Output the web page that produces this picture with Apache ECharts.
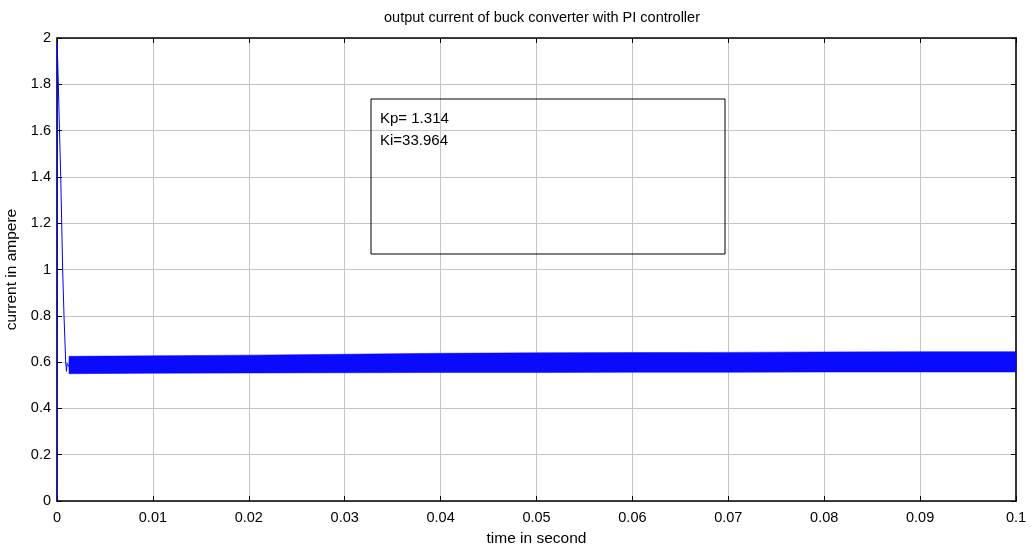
<!DOCTYPE html>
<html>
<head>
<meta charset="utf-8">
<script src="https://cdn.jsdelivr.net/npm/echarts@6/dist/echarts.min.js"></script>
<style>
html,body{margin:0;padding:0;background:#fff;}
#chart{width:1033px;height:552px;}
</style>
</head>
<body>
<div id="chart"></div>
<script>
// Transient (start-up) part of the output current
var transientTime = [0, 0.00002, 0.00014, 0.00026, 0.00039, 0.00059, 0.00073, 0.00091, 0.00099, 0.00106, 0.00125];
var transientCurrent = [0, 1.975, 1.80, 1.60, 1.40, 1.00, 0.80, 0.60, 0.56, 0.595, 0.58];

// Steady-state ripple band (envelope of the switching ripple)
var bandTime  = [0.00125, 0.01, 0.02, 0.03, 0.04, 0.05, 0.06, 0.07, 0.08, 0.09, 0.1];
var bandLower = [0.550, 0.552, 0.553, 0.554, 0.555, 0.555, 0.556, 0.556, 0.557, 0.557, 0.557];
var bandUpper = [0.625, 0.627, 0.630, 0.634, 0.638, 0.640, 0.641, 0.642, 0.644, 0.645, 0.645];

var titleText = 'output current of buck converter with PI controller';
var xName = 'time in second';
var yName = 'current in ampere';
var annotation = ['Kp= 1.314', 'Ki=33.964'];

var FONT = "'Liberation Sans', Arial, sans-serif";
function fmt(v){ return String(parseFloat(Number(v).toFixed(3))); }

var chart = echarts.init(document.getElementById('chart'), null, {renderer:'canvas'});

var transData = transientTime.map(function(t,i){ return [t, transientCurrent[i]]; });
var bandData = bandTime.map(function(t,i){ return [t, bandLower[i], bandUpper[i]]; });

chart.setOption({
  animation:false,
  backgroundColor:'#fff',
  textStyle:{fontFamily:FONT},
  grid:{left:57, top:38, right:17, bottom:51, containLabel:false, outerBoundsMode:'none'},
  xAxis:[{
    type:'value', min:0, max:0.1, interval:0.01,
    name:xName, nameLocation:'middle', nameGap:30,
    nameTextStyle:{color:'#000', fontSize:15.5, fontFamily:FONT},
    axisLine:{show:true, onZero:false, lineStyle:{color:'#000', width:1.5}},
    axisTick:{show:true, inside:true, length:5, lineStyle:{color:'#000'}},
    axisLabel:{color:'#000', fontSize:14.5, fontFamily:FONT, margin:9, formatter:fmt},
    splitLine:{show:true, lineStyle:{color:'#c4c4c4', width:1}}
  },{
    type:'value', position:'top', min:0, max:0.1, interval:0.01,
    axisLine:{show:true, onZero:false, lineStyle:{color:'#000', width:1.5}},
    axisTick:{show:true, inside:true, length:5, lineStyle:{color:'#000'}},
    axisLabel:{show:false}, splitLine:{show:false}
  }],
  yAxis:[{
    type:'value', min:0, max:2, interval:0.2,
    name:yName, nameLocation:'middle', nameGap:37, nameRotate:90,
    nameTextStyle:{color:'#000', fontSize:15.5, fontFamily:FONT},
    axisLine:{show:true, onZero:false, lineStyle:{color:'#000', width:1.5}},
    axisTick:{show:true, inside:true, length:5, lineStyle:{color:'#000'}},
    axisLabel:{color:'#000', fontSize:14.5, fontFamily:FONT, margin:6, formatter:fmt},
    splitLine:{show:true, lineStyle:{color:'#c4c4c4', width:1}}
  },{
    type:'value', position:'right', min:0, max:2, interval:0.2,
    axisLine:{show:true, onZero:false, lineStyle:{color:'#333', width:2}},
    axisTick:{show:true, inside:true, length:5, lineStyle:{color:'#000'}},
    axisLabel:{show:false}, splitLine:{show:false}
  }],
  series:[{
    type:'custom', name:'ripple', data:bandData,
    encode:{x:0, y:[1,2]},
    renderItem:function(params, api){
      if (params.dataIndex !== 0) return null;
      var pts = [];
      var i;
      for (i = 0; i < bandTime.length; i++) pts.push(api.coord([bandTime[i], bandUpper[i]]));
      for (i = bandTime.length - 1; i >= 0; i--) pts.push(api.coord([bandTime[i], bandLower[i]]));
      return {
        type:'polygon', shape:{points:pts},
        style:{fill:'#0a0aff', stroke:'#0000ff', lineWidth:0.5}
      };
    },
    z:3
  },{
    type:'line', name:'transient', data:transData,
    symbol:'none', lineStyle:{width:1, color:'#0000ff'}, z:4
  }],
  graphic:[{
    type:'text', x:542, y:10,
    style:{text:titleText, font:'14.5px '+FONT, fill:'#000', textAlign:'center'}
  },{
    type:'rect', shape:{x:371, y:99, width:354, height:155},
    style:{fill:null, stroke:'#000', lineWidth:1}, z:10
  },{
    type:'text', x:380, y:108,
    style:{text:annotation.join('\n'), font:'15px '+FONT, fill:'#000', lineHeight:22}, z:10
  }]
});
</script>
</body>
</html>
